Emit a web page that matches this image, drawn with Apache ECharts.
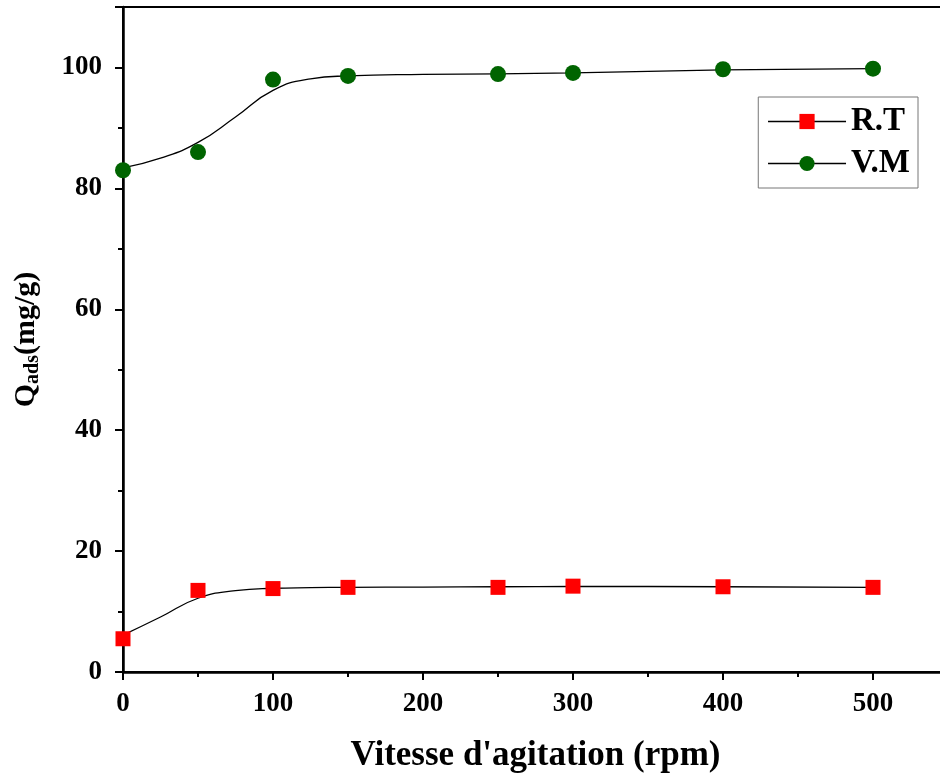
<!DOCTYPE html>
<html>
<head>
<meta charset="utf-8">
<script src="https://cdn.jsdelivr.net/npm/echarts@6/dist/echarts.min.js"></script>
<style>
  html, body { margin: 0; padding: 0; background: #fff; }
  #chart { width: 940px; height: 779px; }
</style>
</head>
<body>
<div id="chart"></div>
<script>
// mesures (points)
const vitesse = [0, 50, 100, 150, 250, 300, 400, 500]
const qRT = [5.5, 13.5, 13.8, 14.0, 14.0, 14.2, 14.1, 14.0]
const qVM = [83.0, 86.0, 98.0, 98.6, 98.9, 99.1, 99.7, 99.8]

// courbes ajustées
const fitX = [0, 25, 50, 75, 100, 125, 150, 200, 250, 300, 400, 500]
const fitRT = [6.1, 9.1, 12.2, 13.45, 13.85, 13.95, 14.0, 14.05, 14.1, 14.15, 14.1, 14.0]
const fitVM = [83.4, 85.0, 87.6, 91.8, 96.2, 98.1, 98.6, 98.85, 98.95, 99.1, 99.6, 99.8]

const font = '"Liberation Serif", "Times New Roman", serif'

const pairs = (xs, ys) => xs.map((x, i) => [x, ys[i]])

const chart = echarts.init(document.getElementById('chart'))

const option = {
  animation: false,
  grid: {
    left: 123,
    top: 7,
    right: -8,
    bottom: 107,
    outerBoundsMode: 'none',
    containLabel: false,
    show: true,
    borderColor: '#000',
    borderWidth: 2
  },
  legend: {
    show: true,
    right: 22,
    top: 97,
    orient: 'vertical',
    data: [
      {name: 'R.T', lineStyle: {color: '#000', width: 1.5, opacity: 1}},
      {name: 'V.M', lineStyle: {color: '#000', width: 1.5, opacity: 1}}
    ],
    itemWidth: 78,
    itemHeight: 19,
    itemGap: 9,
    itemTextGap: 9,
    padding: [8, 8, 8, 9],
    borderColor: '#777',
    borderWidth: 1,
    textStyle: {
      fontFamily: font,
      fontWeight: 'bold',
      fontSize: 33,
      lineHeight: 30,
      color: '#000'
    }
  },
  xAxis: {
    type: 'value',
    min: 0,
    max: 550,
    interval: 100,
    name: "Vitesse d'agitation (rpm)",
    nameLocation: 'middle',
    nameGap: 66,
    nameTextStyle: {fontFamily: font, fontWeight: 'bold', fontSize: 35, color: '#000'},
    axisLine: {show: true, onZero: false, lineStyle: {color: '#000', width: 2.5}},
    axisTick: {show: true, inside: false, length: 8, lineStyle: {color: '#000', width: 2}},
    minorTick: {show: true, splitNumber: 2, length: 5, lineStyle: {color: '#000', width: 2}},
    axisLabel: {
      showMaxLabel: false,
      margin: 19,
      fontFamily: font,
      fontWeight: 'bold',
      fontSize: 27,
      color: '#000'
    },
    splitLine: {show: false}
  },
  yAxis: {
    type: 'value',
    min: 0,
    max: 110,
    interval: 20,
    name: '{q|Q}{s|ads}{q|(mg/g)}',
    nameLocation: 'middle',
    nameGap: 80,
    nameRotate: 90,
    nameTextStyle: {
      rich: {
        q: {fontFamily: font, fontWeight: 'bold', fontSize: 30, color: '#000'},
        s: {fontFamily: font, fontWeight: 'bold', fontSize: 20, color: '#000', verticalAlign: 'bottom', padding: [14, 0, 0, 0]}
      }
    },
    axisLine: {show: true, onZero: false, lineStyle: {color: '#000', width: 2.5}},
    axisTick: {show: true, inside: false, length: 8, lineStyle: {color: '#000', width: 2}},
    minorTick: {show: true, splitNumber: 2, length: 5, lineStyle: {color: '#000', width: 2}},
    axisLabel: {
      showMaxLabel: false,
      margin: 21,
      fontFamily: font,
      fontWeight: 'bold',
      fontSize: 27,
      color: '#000'
    },
    splitLine: {show: false}
  },
  series: [
    {
      name: 'fitRT',
      type: 'line',
      smooth: 0.5,
      showSymbol: false,
      silent: true,
      data: pairs(fitX, fitRT),
      lineStyle: {color: '#000', width: 1.3},
      z: 2
    },
    {
      name: 'fitVM',
      type: 'line',
      smooth: 0.5,
      showSymbol: false,
      silent: true,
      data: pairs(fitX, fitVM),
      lineStyle: {color: '#000', width: 1.3},
      z: 2
    },
    {
      name: 'R.T',
      type: 'line',
      data: pairs(vitesse, qRT),
      symbol: 'rect',
      symbolSize: 15,
      itemStyle: {color: '#ff0000'},
      lineStyle: {opacity: 0},
      z: 3
    },
    {
      name: 'V.M',
      type: 'line',
      data: pairs(vitesse, qVM),
      symbol: 'circle',
      symbolSize: 16,
      itemStyle: {color: '#006400'},
      lineStyle: {opacity: 0},
      z: 3
    }
  ]
}

chart.setOption(option)
</script>
</body>
</html>
